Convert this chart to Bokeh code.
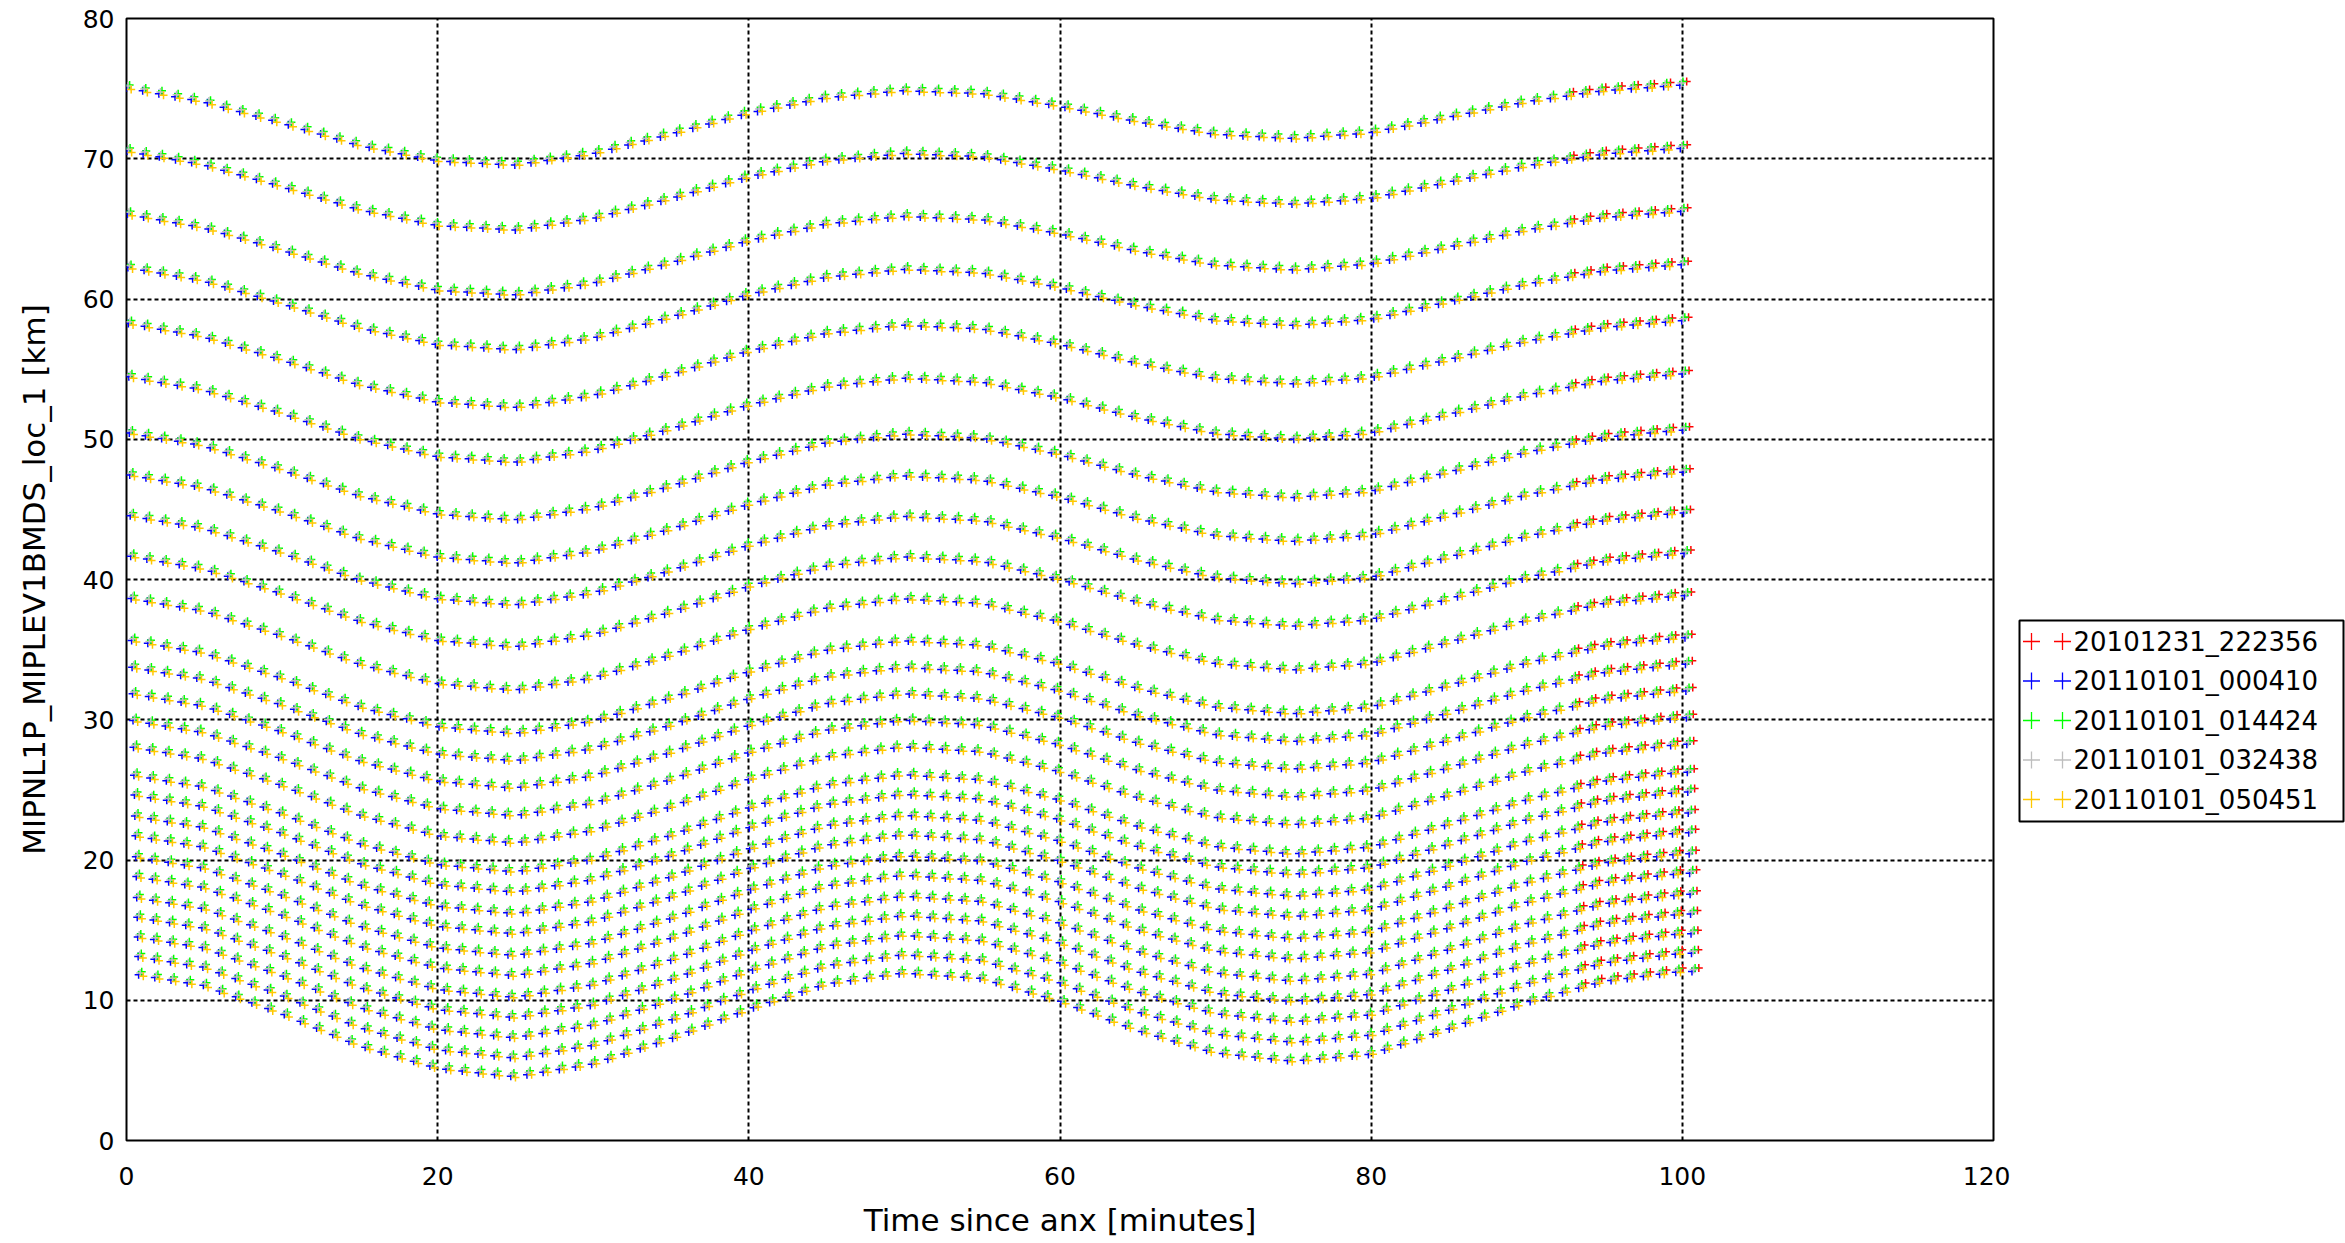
import numpy as np
from bokeh.plotting import figure
from bokeh.layouts import row
from bokeh.models import Range1d, FixedTicker
from bokeh.embed import file_html
from bokeh.resources import INLINE
from bokeh.core.properties import value

# ---------------- data ----------------
series_names = ["20101231_222356", "20110101_000410", "20110101_014424",
                "20110101_032438", "20110101_050451"]
series_colors = ["#ff0000", "#0000ff", "#00ff00", "#bebebe", "#ffc800"]
# first / last scan time of each orbit [minutes since ANX]
series_start = [93.0, 0.00, 0.20, 0.10, 0.30]
series_end = [100.4, 100.5, 100.2, 100.6, 99.6]
# small altitude offset of each orbit with respect to the others [km]
series_alt_shift = [0.1, -0.15, 0.1, 0.0, -0.2]
scan_period = 1.04    # minutes between successive limb scans
sweep_step = 0.03     # minutes between successive sweeps inside a scan

# tangent altitude of the 27 sweeps at the equator (t = 100 min) [km]
sweep_alt_eq = [75.4, 70.9, 66.4, 62.6, 58.6, 54.8, 50.8, 47.8, 44.9, 42.0,
                39.0, 36.0, 34.1, 32.2, 30.3, 28.4, 26.4, 25.0, 23.5, 22.1,
                20.6, 19.2, 17.7, 16.3, 14.9, 13.5, 12.2]

# altitude of the highest and of the lowest sweep along the orbit [km]
node_time = [0, 5, 10, 15, 20, 25, 30, 35, 40, 45, 50,
             55, 60, 65, 70, 75, 80, 85, 90, 95, 100]
top_sweep = [75.2, 74.2, 72.7, 71.1, 70.0, 69.7, 70.5, 71.9, 73.4, 74.5, 75.0,
             74.8, 73.9, 72.8, 71.9, 71.6, 72.0, 73.1, 74.2, 75.0, 75.4]
bottom_sweep = [12.1, 11.2, 9.2, 6.9, 5.3, 4.7, 5.6, 7.4, 9.5, 11.3, 12.1,
                11.7, 10.1, 8.0, 6.4, 5.8, 6.3, 8.1, 10.0, 11.5, 12.2]

x_ticks = [0, 20, 40, 60, 80, 100, 120]
y_ticks = [0, 10, 20, 30, 40, 50, 60, 70, 80]

FONT = "DejaVu Sans"
H = 1240
TOP = 18
FRAME_H = 1122
BOTTOM = H - TOP - FRAME_H
MAIN_W = 2010

# ---------------- main figure ----------------
p = figure(width=MAIN_W, height=H, x_range=Range1d(0, 120), y_range=Range1d(0, 80),
           toolbar_location=None, output_backend="svg",
           min_border_left=126, min_border_right=17, min_border_top=TOP, min_border_bottom=BOTTOM)
p.background_fill_color = "white"
p.border_fill_color = "white"
p.outline_line_color = "black"
p.outline_line_width = 2

eq = np.array(sweep_alt_eq)
wgt = (eq[0] - eq) / (eq[0] - eq[-1])
top_off = np.array(top_sweep) - top_sweep[-1]
bot_off = np.array(bottom_sweep) - bottom_sweep[-1]

for name, col, t0, t1, dz in zip(series_names, series_colors, series_start, series_end, series_alt_shift):
    scans = np.arange(t0, t1 + 1e-9, scan_period)
    xs, ys = [], []
    for k in range(len(eq)):
        t = scans + k * sweep_step
        off = (1 - wgt[k]) * np.interp(t, node_time, top_off) + wgt[k] * np.interp(t, node_time, bot_off)
        xs.append(t)
        ys.append(eq[k] + off + dz)
    p.scatter(np.concatenate(xs), np.concatenate(ys), marker="cross", size=8,
              line_color=col, line_width=1.5)

p.xaxis.ticker = FixedTicker(ticks=x_ticks)
p.yaxis.ticker = FixedTicker(ticks=y_ticks)
for ax in (p.xaxis[0], p.yaxis[0]):
    ax.axis_line_color = None
    ax.major_tick_line_color = None
    ax.minor_tick_line_color = None
    ax.major_tick_out = 0
    ax.major_tick_in = 0
    ax.major_label_text_font = FONT
    ax.major_label_text_font_size = "25px"
    ax.major_label_text_color = "black"
    ax.axis_label_text_font = FONT
    ax.axis_label_text_font_size = "31px"
    ax.axis_label_text_font_style = "normal"
    ax.axis_label_text_color = "black"
p.xaxis.axis_label = "Time since anx [minutes]"
p.yaxis.axis_label = "MIPNL1P_MIPLEV1BMDS_loc_1 [km]"
p.xaxis.major_label_standoff = 26
p.xaxis.axis_label_standoff = 14
p.yaxis.major_label_standoff = 12
p.yaxis.axis_label_standoff = 28

for g in (p.xgrid[0], p.ygrid[0]):
    g.grid_line_color = "black"
    g.grid_line_width = 2
    g.grid_line_dash = "4 3"

# ---------------- legend figure (pixel coordinates, y downwards from frame top) ----------------
LEG_W = 335
leg = figure(width=LEG_W, height=H, x_range=Range1d(0, LEG_W), y_range=Range1d(FRAME_H, 0),
             toolbar_location=None, output_backend="svg",
             min_border_left=0, min_border_right=0, min_border_top=TOP, min_border_bottom=BOTTOM)
leg.axis.visible = False
leg.grid.visible = False
leg.outline_line_color = None
leg.border_fill_color = "white"
leg.background_fill_color = "white"
box_left, box_right, box_top, box_bottom = 9, 333, 602, 803
leg.quad(left=[box_left], right=[box_right], top=[box_top], bottom=[box_bottom],
         fill_color="white", line_color="black", line_width=2)
row_y = [box_top + 21 + 39.5 * i for i in range(len(series_names))]
leg.scatter([21] * len(row_y), row_y, marker="cross", size=17, line_color=series_colors, line_width=1.3)
leg.scatter([52] * len(row_y), row_y, marker="cross", size=17, line_color=series_colors, line_width=1.3)
leg.text([63] * len(row_y), row_y, text=series_names, text_baseline="middle", text_align="left",
         text_font=value(FONT), text_font_size="26px", text_color="black")

layout = row(p, leg, spacing=0)
open("out.html", "w").write(file_html(layout, INLINE))
